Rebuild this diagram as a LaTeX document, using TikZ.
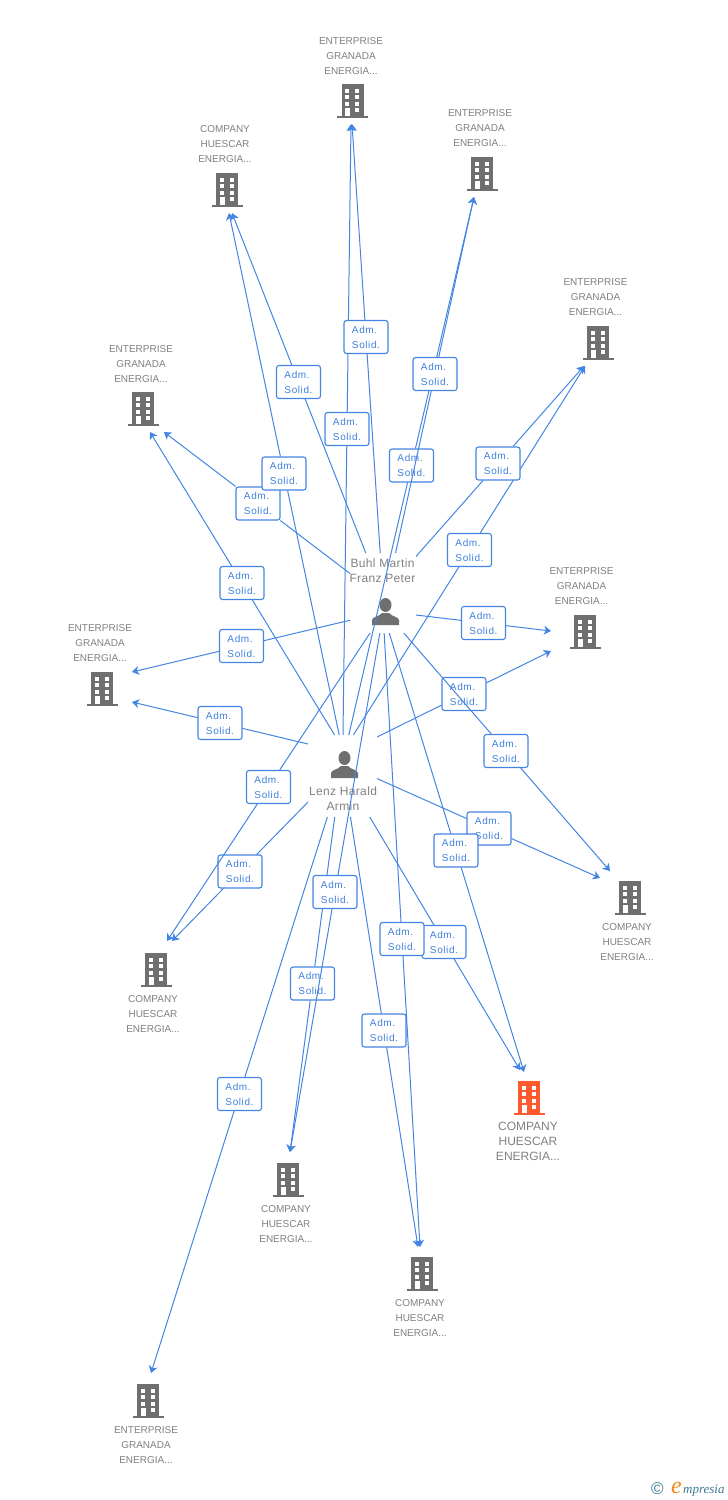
\documentclass[tikz,border=0pt]{standalone}
\usepackage{fontspec}
\usepackage{tikz}
\usetikzlibrary{arrows.meta,calc}
\setmainfont{Liberation Sans}
\newfontfamily\admfont[LetterSpace=6]{Liberation Sans}
\newfontfamily\whofont[LetterSpace=3]{Liberation Sans}
\newfontfamily\logofont{Liberation Serif}
\definecolor{linkblue}{HTML}{4485E3}
\definecolor{admblue}{HTML}{3F7FDD}
\definecolor{icongray}{HTML}{6F6F6F}
\definecolor{labelgray}{HTML}{808080}
\definecolor{iconorange}{HTML}{FF5A2D}
\definecolor{logoblue}{HTML}{3C7A92}
\definecolor{logoorange}{HTML}{F08A1D}
\tikzset{
    link/.style={draw=linkblue, line width=1pt, -{Stealth[length=7pt,width=9pt,inset=2pt]}},
    admbox/.style={draw=linkblue, line width=1.1pt, fill=white, rounded corners=2.5pt, inner sep=0pt,
            minimum width=44pt, minimum height=33pt, align=left, text=admblue,
            font=\admfont\fontsize{10}{15}\selectfont},
    lab/.style={align=center, text=labelgray, inner sep=0pt, font=\fontsize{10}{15}\selectfont},
    whotext/.style={align=center, text=labelgray, inner sep=0pt, font=\whofont\fontsize{12}{15}\selectfont},
    pics/bldg/.style={code={
                \fill[#1] (-11,-17) rectangle (11,15);
                \fill[#1] (-15.5,14.5) rectangle (15.5,17);
                \foreach \wy in {-12.5,-6,0.7} {
                        \fill[white] (-7.5,\wy) rectangle (-3.2,\wy+4);
                        \fill[white] (2.5,\wy) rectangle (6.8,\wy+4);
                    }
                \fill[white] (-7.5,6.7) rectangle (-2.5,14.5);
                \fill[white] (2.5,6.7) rectangle (6.8,11.3);
            }},
    pics/person/.style={code={
                \fill[icongray] (0,-7) ellipse (6 and 7);
                \fill[icongray] (-13.5,13) -- (-13.5,8) .. controls (-13,4.5) and (-6,4.5) .. (-3.5,1)
                -- (3.5,1) .. controls (6,4.5) and (13,4.5) .. (13.5,8) -- (13.5,13) -- cycle;
            }}
}
\begin{document}
\begin{tikzpicture}[x=1pt,y=-1pt]
    \useasboundingbox (0,0) rectangle (728,1500);
    % The two people, with the corners of the area their lines stay out of
    \coordinate (buhl) at (385.5,612);
    \coordinate (buhl sw) at (350,553);
    \coordinate (buhl ne) at (416,633);
    \coordinate (lenz) at (344.5,765);
    \coordinate (lenz sw) at (308,735);
    \coordinate (lenz ne) at (377,817);
    % The buildings
    \foreach \bname/\bx/\by/\lx/\ly/\ltxt in {
            ent1/352.5/101/351/56/{ENTERPRISE\\GRANADA\\ENERGIA...},
            com1/227/190/225/144/{COMPANY\\HUESCAR\\ENERGIA...},
            ent2/482/174/480/128/{ENTERPRISE\\GRANADA\\ENERGIA...},
            ent3/598/343/595.5/297/{ENTERPRISE\\GRANADA\\ENERGIA...},
            ent4/143/409/141/364/{ENTERPRISE\\GRANADA\\ENERGIA...},
            ent5/585/632/581.5/586/{ENTERPRISE\\GRANADA\\ENERGIA...},
            ent6/102/689/100/643/{ENTERPRISE\\GRANADA\\ENERGIA...},
            com2/630/898/627/942/{COMPANY\\HUESCAR\\ENERGIA...},
            com3/156/970/153/1014/{COMPANY\\HUESCAR\\ENERGIA...},
            com5/288/1180/286/1224/{COMPANY\\HUESCAR\\ENERGIA...},
            com6/422/1274/420/1318/{COMPANY\\HUESCAR\\ENERGIA...},
            ent7/148/1401/146/1445/{ENTERPRISE\\GRANADA\\ENERGIA...}} {
            \pic at (\bx,\by) {bldg=icongray};
            \node[lab] (\bname text) at (\lx,\ly) {\ltxt};
        }
    % The highlighted building
    \pic at (529,1098) {bldg=iconorange};
    \node[lab, font=\fontsize{12}{15}\selectfont] (com4 text) at (528,1141) {COMPANY\\HUESCAR\\ENERGIA...};
    % The people
    \pic at (buhl) {person};
    \pic at (lenz) {person};
    \node[whotext] (buhl text) at (382.5,571) {Buhl Martin\\Franz Peter};
    \node[whotext] (lenz text) at (343,799) {Lenz Harald\\Armin};
    % The links: person, arrow tip, box half way along
    \foreach \who/\tx/\ty/\ax/\ay [count=\n] in {
            lenz/351/124/347/429, buhl/352/124/366/337,
            lenz/150/432/242/583, buhl/164/432/258/503.5,
            lenz/229/213/284/473.5, buhl/232/213/298.5/382,
            lenz/474/197/411.5/465.5, buhl/474/197/435/374,
            lenz/585/366/469.5/550, buhl/584/366/498/463.5,
            lenz/132/702/220/723, buhl/132/672/241.5/646,
            lenz/551/651/464/694, buhl/551/631/483.5/623,
            lenz/600/878/489/828.5, buhl/610/871/506/751,
            lenz/520/1070/444/942, buhl/524/1072/456/850.5,
            lenz/418/1247/384/1030.5, buhl/420/1247/402/939,
            lenz/172/941/240/871.5, buhl/167/941/268.5/787,
            lenz/290/1152/312.5/983.5, buhl/290/1152/335/892,
            lenz/151/1373/239.5/1094} {
            \node[admbox] (box\n) at (\ax,\ay) {Adm.\\Solid.};
            \coordinate (tip\n) at (\tx,\ty);
            \coordinate (start\n) at ($(tip\n)!2!(box\n.center)$);
            \begin{scope}[even odd rule]
                \clip (0,0) rectangle (728,1500) (\who\space sw) rectangle (\who\space ne);
                \draw[link] (\who) -- (start\n) -- (box\n) -- (tip\n);
            \end{scope}
        }
    % The logo
    \node[text=logoblue, inner sep=0pt, font=\fontsize{17}{17}\selectfont] (logo c) at (657.5,1488.5) {©};
    \node[text=logoorange, inner sep=0pt, anchor=base west, font=\logofont\itshape\fontsize{24}{24}\selectfont] (logo e) at (671,1493) {e};
    \node[text=logoblue, inner sep=0pt, anchor=base west, font=\logofont\itshape\fontsize{13}{13}\selectfont] (logo t) at (683,1493) {mpresia};
\end{tikzpicture}
\end{document}
